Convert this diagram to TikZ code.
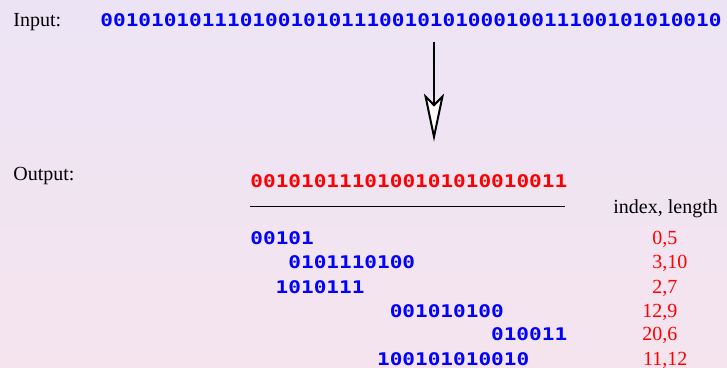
\documentclass[tikz,border=0pt]{standalone}
\usepackage{fontspec}
\setmainfont{Liberation Serif}
\newfontfamily\bitfont[FakeStretch=1.21]{DejaVu Sans Mono}
\usepackage{xcolor}
\usetikzlibrary{arrows.meta}
\tikzset{>=stealth}
\definecolor{bgtop}{RGB}{236,228,245}
\definecolor{bgbot}{RGB}{245,228,238}
\tikzset{
  bits/.style={anchor=base west,inner sep=0pt,font=\bitfont\bfseries\fontsize{8.7}{10}\selectfont},
  lbl/.style={anchor=base west,inner sep=0pt,font=\fontsize{10}{12}\selectfont},
}

\begin{document}
\begin{tikzpicture}[x=0.5pt,y=-0.5pt]
      \useasboundingbox (0,0) rectangle (727,368);
      \shade[top color=bgtop,bottom color=bgbot] (0,0) rectangle (727,368);

      \node[lbl] (inlbl) at (13,26.7) {Input:};
      \node[bits,blue] (inbits) at (100,26.5) {0010101011101001010111001010100010011100101010010};

      \coordinate (from) at (434,41.7);
      \coordinate (to) at (434,141.7);
      \draw[line width=1pt,-{Stealth[length=24pt,width=10pt,inset=5pt,fill=white]}] (from)--(to);

      \node[lbl] (outlbl) at (13,181) {Output:};
      \node[bits,red] (outbits) at (250,187.5) {0010101110100101010010011};
      \draw[thin] (250,206.7)--(565,206.7);
      \node[lbl] (head) at (613,213.3) {index, length};

      % one row per match: offset in the output, bits, index, length
      \foreach \p/\s/\a/\b [count=\r] in {0/00101/0/5, 3/0101110100/3/10, 2/1010111/2/7,
                                        11/001010100/12/9, 19/010011/20/6, 10/100101010010/11/12}{
        \node[bits,blue] (row\r) at ({250+\p*12.67},{245+24*(\r-1)}) {\s};
        \node[lbl,red] (pair\r) at ({642},{245+24*(\r-1)}) {\makebox[10pt][r]{\a},\b};
      }
       \end{tikzpicture}
\end{document}
